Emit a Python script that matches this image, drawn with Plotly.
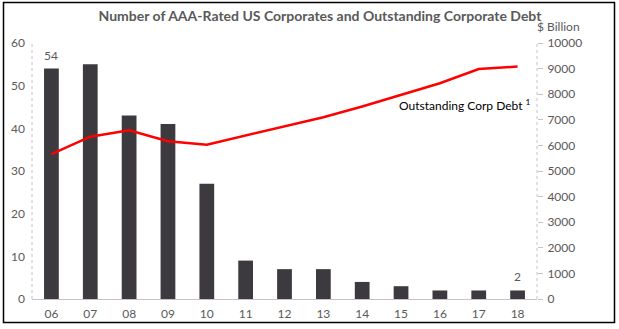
import plotly.graph_objects as go

years = ["06", "07", "08", "09", "10", "11", "12", "13", "14", "15", "16", "17", "18"]
aaa_count = [54, 55, 43, 41, 27, 9, 7, 7, 4, 3, 2, 2, 2]
corp_debt = [5660, 6340, 6590, 6160, 6030, 6390, 6720, 7100, 7520, 7980, 8430, 8980, 9080]

W, H = 619, 329
L, R, T, B = 32, 82, 43, 30
grey = "#595959"
axis_grey = "#c8c0cc"
font = "Lato"

fig = go.Figure()
fig.add_trace(go.Bar(
    x=years, y=aaa_count, marker=dict(color="#3c3a3f", line=dict(width=0)),
    width=0.38, yaxis="y", showlegend=False,
))
fig.add_trace(go.Scatter(
    x=years, y=corp_debt, mode="lines", line=dict(color="#ff0000", width=2.5),
    yaxis="y2", showlegend=False,
))

# value labels on first and last bar (category axis: position by index)
for i in (0, len(years) - 1):
    fig.add_annotation(x=i, y=aaa_count[i], xref="x", yref="y", text=str(aaa_count[i]),
                       showarrow=False, yanchor="bottom", yshift=4,
                       font=dict(family=font, size=12, color=grey))

fig.add_annotation(x=9, y=corp_debt[9], xref="x", yref="y2", text="Outstanding Corp Debt <sup>1</sup>",
                   showarrow=False, xanchor="left", xshift=-4, yshift=-10,
                   font=dict(family=font, size=12, color="#000000"))

fig.add_annotation(xref="paper", yref="paper", x=1.0, y=1.0, text="$ Billion",
                   showarrow=False, xanchor="left", yanchor="bottom", xshift=-2, yshift=7,
                   font=dict(family=font, size=12, color=grey))

# dotted vertical axis lines
for xv in (0, 1):
    fig.add_shape(type="line", xref="paper", yref="paper", x0=xv, x1=xv, y0=0, y1=1,
                  line=dict(color=axis_grey, width=1, dash="dot"))

# outer frame
pw, ph = W - L - R, H - T - B
def px(xp):
    return (xp - L) / pw
def py(yp):
    return (H - B - yp) / ph
fig.add_shape(type="rect", xref="paper", yref="paper",
              x0=px(3.5), x1=px(614.5), y0=py(322.5), y1=py(2.5),
              line=dict(color="#000000", width=1.5), fillcolor="rgba(0,0,0,0)", layer="below")

fig.update_layout(
    width=W, height=H,
    margin=dict(l=L, r=R, t=T, b=B, autoexpand=False),
    paper_bgcolor="white", plot_bgcolor="white",
    title=dict(text="<b>Number of AAA-Rated US Corporates and Outstanding Corporate Debt</b>",
               x=320 / W, xanchor="center", y=1 - 16 / H, yanchor="middle",
               font=dict(family=font, size=14, color=grey)),
    xaxis=dict(type="category", range=[-0.5, 12.5], showgrid=False, automargin=False,
               showline=True, linecolor=axis_grey, linewidth=1,
               ticks="", tickfont=dict(family=font, size=12, color=grey), ticklabelstandoff=4),
    yaxis=dict(range=[0, 60], dtick=10, showgrid=False, zeroline=False, automargin=False,
               showline=False,
               ticks="", tickfont=dict(family=font, size=12, color=grey), ticklabelstandoff=6),
    yaxis2=dict(range=[0, 10000], dtick=1000, overlaying="y", side="right", automargin=False,
                showgrid=False, zeroline=False, showline=False,
                ticks="outside", ticklen=5, tickcolor=axis_grey, tickformat="d",
                tickfont=dict(family=font, size=12, color=grey), ticklabelstandoff=2),
    bargap=0.6,
)

fig.write_html("out.html")
